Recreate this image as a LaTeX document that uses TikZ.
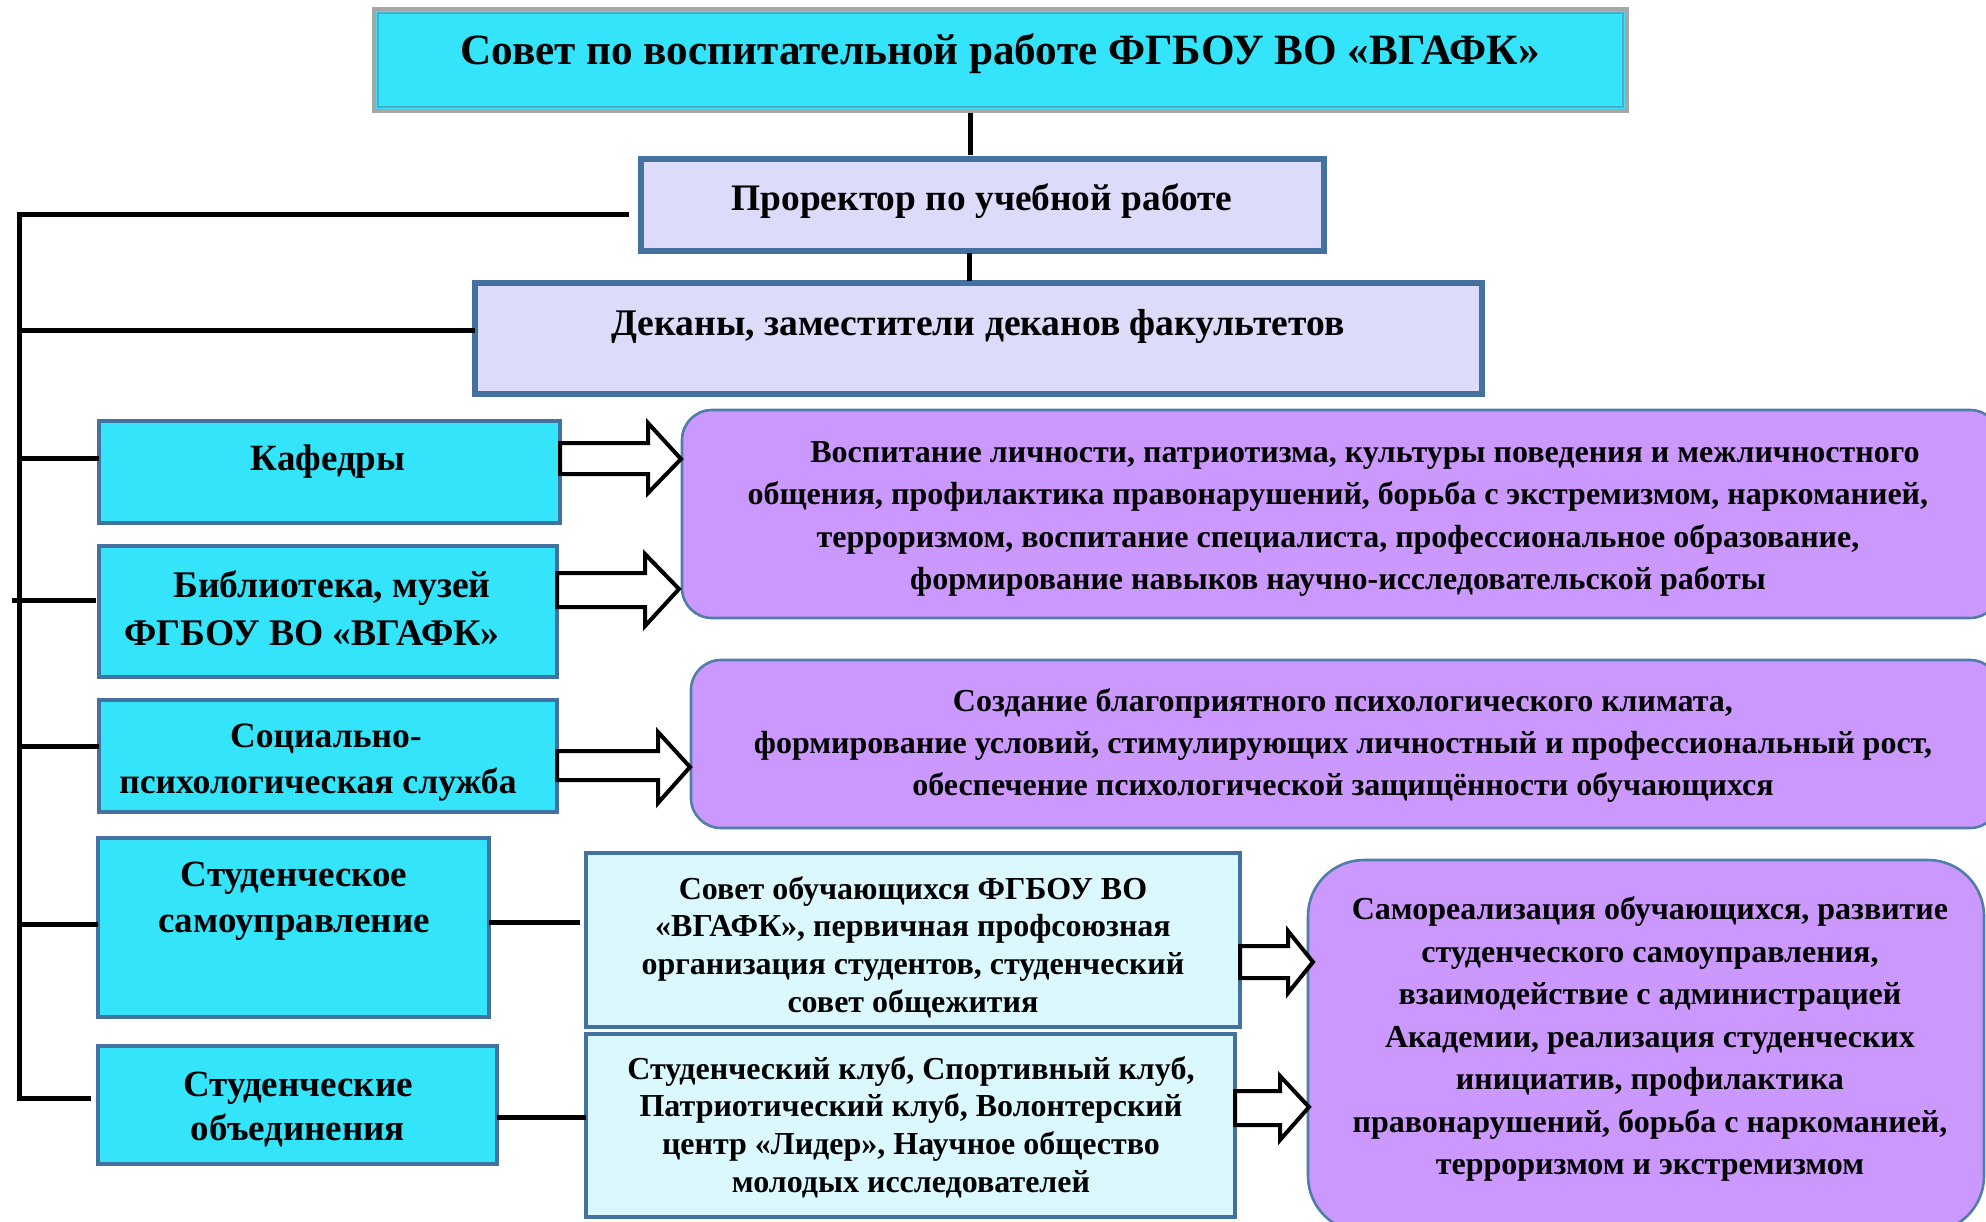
\documentclass[tikz,border=0pt]{standalone}
\usepackage{fontspec}
\setmainfont{Liberation Serif}
\usetikzlibrary{fit,calc}
\definecolor{cyanf}{RGB}{51,228,251}
\definecolor{lavf}{RGB}{220,220,250}
\definecolor{purf}{RGB}{203,153,253}
\definecolor{lcyf}{RGB}{218,248,253}
\definecolor{sblue}{RGB}{68,114,160}
\definecolor{pblue}{RGB}{80,125,170}
\definecolor{gbord}{RGB}{166,166,166}
\definecolor{tealb}{RGB}{75,172,198}
\tikzset{
  bx/.style={inner sep=0pt, outer sep=0pt},
  topbox/.style={bx, draw=gbord, line width=2pt, fill=cyanf},
  topin/.style={bx, draw=tealb, line width=0.6pt},
  lavbox/.style={bx, draw=sblue, line width=2.75pt, fill=lavf},
  cyanbox/.style={bx, draw=sblue, line width=1.6pt, fill=cyanf},
  lcybox/.style={bx, draw=sblue, line width=2pt, fill=lcyf},
  purbox/.style={bx, draw=pblue, line width=1.3pt, fill=purf, rounded corners=15pt},
  bigpur/.style={bx, draw=pblue, line width=1.3pt, fill=purf, rounded corners=28pt},
  txt/.style={inner sep=0pt, align=center},
  conn/.style={draw=black, line width=2.5pt},
  harrow/.style={draw=black, fill=white, line width=2pt, line join=miter}
}
\begin{document}
\begin{tikzpicture}[x=0.5pt,y=-0.5pt]
\useasboundingbox (0,0) rectangle (1986,1221);
\clip (0,0) rectangle (1986,1221);
% top boxes
\node[topbox, fit={(374,9) (1627,111)}] (top) {};
\node[topin, fit={(378,13) (1623,107)}] (topi) {};
\node[txt, font=\fontsize{21.6}{25}\selectfont\bfseries] (toptxt) at (1000,54) {Совет по воспитательной работе ФГБОУ ВО «ВГАФК»};
\node[lavbox, fit={(641,159) (1324,251)}] (pro) {};
\node[txt, font=\fontsize{18.7}{22}\selectfont\bfseries] (protxt) at (982,201) {Проректор по учебной работе};
\node[lavbox, fit={(475,283) (1482,394)}] (dean) {};
\node[txt, font=\fontsize{18.8}{22}\selectfont\bfseries] (deantxt) at (978,327) {Деканы, заместители деканов факультетов};
% left boxes
\node[cyanbox, fit={(99,421) (560,523)}] (kaf) {};
\node[txt, font=\fontsize{18.5}{23}\selectfont\bfseries] (kaftxt) at (328,462) {Кафедры};
\node[cyanbox, fit={(99,546) (557,677)}] (lib) {};
\node[txt, font=\fontsize{18.8}{24}\selectfont\bfseries] (libtxt) at (312,608) {\hspace*{20pt}Библиотека, музей\\ФГБОУ ВО «ВГАФК»};
\node[cyanbox, fit={(99,700) (557,812)}] (soc) {};
\node[txt, font=\fontsize{17.8}{23}\selectfont\bfseries] (soctxt) at (318,763) {\hspace*{8pt}Социально-\\психологическая служба};
\node[cyanbox, fit={(98,838) (489,1017)}] (ssu) {};
\node[txt, font=\fontsize{18.5}{23}\selectfont\bfseries] (ssutxt) at (294,901) {Студенческое\\самоуправление};
\node[cyanbox, fit={(98,1046) (497,1164)}] (sob) {};
\node[txt, font=\fontsize{18.5}{22}\selectfont\bfseries] (sobtxt) at (298,1109) {Студенческие\\объединения};
% light cyan boxes
\node[lcybox, fit={(586,853) (1240,1027)}] (lc1) {};
\node[txt, font=\fontsize{16}{18.8}\selectfont\bfseries] (lc1txt) at (913,947) {Совет обучающихся ФГБОУ ВО\\«ВГАФК», первичная профсоюзная\\организация студентов, студенческий\\совет общежития};
\node[lcybox, fit={(586,1034) (1235,1217)}] (lc2) {};
\node[txt, font=\fontsize{16}{18.8}\selectfont\bfseries] (lc2txt) at (911,1127) {Студенческий клуб, Спортивный клуб,\\Патриотический клуб, Волонтерский\\центр «Лидер», Научное общество\\молодых исследователей};
% purple boxes
\node[purbox, fit={(682,410) (2000,618)}] (pur1) {};
\node[txt, font=\fontsize{16}{21.25}\selectfont\bfseries] (pur1txt) at (1338,519) {\hspace*{27pt}Воспитание личности, патриотизма, культуры поведения и межличностного\\общения, профилактика правонарушений, борьба с экстремизмом, наркоманией,\\терроризмом, воспитание специалиста, профессиональное образование,\\формирование навыков научно-исследовательской работы};
\node[purbox, fit={(691,660) (2000,828)}] (pur2) {};
\node[txt, font=\fontsize{16}{21}\selectfont\bfseries] (pur2txt) at (1343,745) {Создание благоприятного психологического климата,\\формирование условий, стимулирующих личностный и профессиональный рост,\\обеспечение психологической защищённости обучающихся};
\node[bigpur, fit={(1308,860) (1984,1232)}] (big) {};
\node[txt, font=\fontsize{16}{21.25}\selectfont\bfseries] (bigtxt) at (1650,1039) {Самореализация обучающихся, развитие\\студенческого самоуправления,\\взаимодействие с администрацией\\Академии, реализация студенческих\\инициатив, профилактика\\правонарушений, борьба с наркоманией,\\терроризмом и экстремизмом};
% connector coordinates
\coordinate (t1) at (970,113);
\coordinate (t2) at (970,155);
\coordinate (p1) at (969,253);
\coordinate (p2) at (969,281);
\coordinate (proL) at (629,214);
\coordinate (busB) at (19,1098);
\coordinate (busDean) at (19,330);
\coordinate (busKaf) at (19,458);
\coordinate (busLib) at (12,600);
\coordinate (busSoc) at (19,746);
\coordinate (busSsu) at (19,924);
\coordinate (sobL) at (91,1098);
\coordinate (libL) at (96,600);
\coordinate (lc1L) at (580,922);
\coordinate (ssuR) at (489,922);
\coordinate (sobR) at (497,1117);
% connectors
\draw[conn] (t1) -- (t2);
\draw[conn] (p1) -- (p2);
\draw[conn, line join=miter] (proL) -| (busB) -- (sobL);
\draw[conn] (busDean) -- (dean.west |- busDean);
\draw[conn] (busKaf) -- (kaf.west |- busKaf);
\draw[conn] (busLib) -- (libL);
\draw[conn] (busSoc) -- (soc.west |- busSoc);
\draw[conn] (busSsu) -- (ssu.west |- busSsu);
\draw[conn] (ssuR) -- (lc1L);
\draw[conn] (sobR) -- (lc2.west |- sobR);
% hollow arrows
\draw[harrow] (kaf.east |- 0,443) -- (648,443) -- (648,423) -- (681,459) -- (648,493) -- (648,474) -- (kaf.east |- 0,474) -- cycle;
\draw[harrow] (lib.east |- 0,573) -- (645,573) -- (645,554) -- (679,589) -- (645,626) -- (645,607) -- (lib.east |- 0,607) -- cycle;
\draw[harrow] (soc.east |- 0,751) -- (658,751) -- (658,732) -- (690,767) -- (658,803) -- (658,780) -- (soc.east |- 0,780) -- cycle;
\draw[harrow] (lc1.east |- 0,946) -- (1288,946) -- (1288,931) -- (1313,962) -- (1288,993) -- (1288,978) -- (lc1.east |- 0,978) -- cycle;
\draw[harrow] (lc2.east |- 0,1091) -- (1280,1091) -- (1280,1076) -- (1309,1107) -- (1280,1140) -- (1280,1125) -- (lc2.east |- 0,1125) -- cycle;
\end{tikzpicture}
\end{document}
